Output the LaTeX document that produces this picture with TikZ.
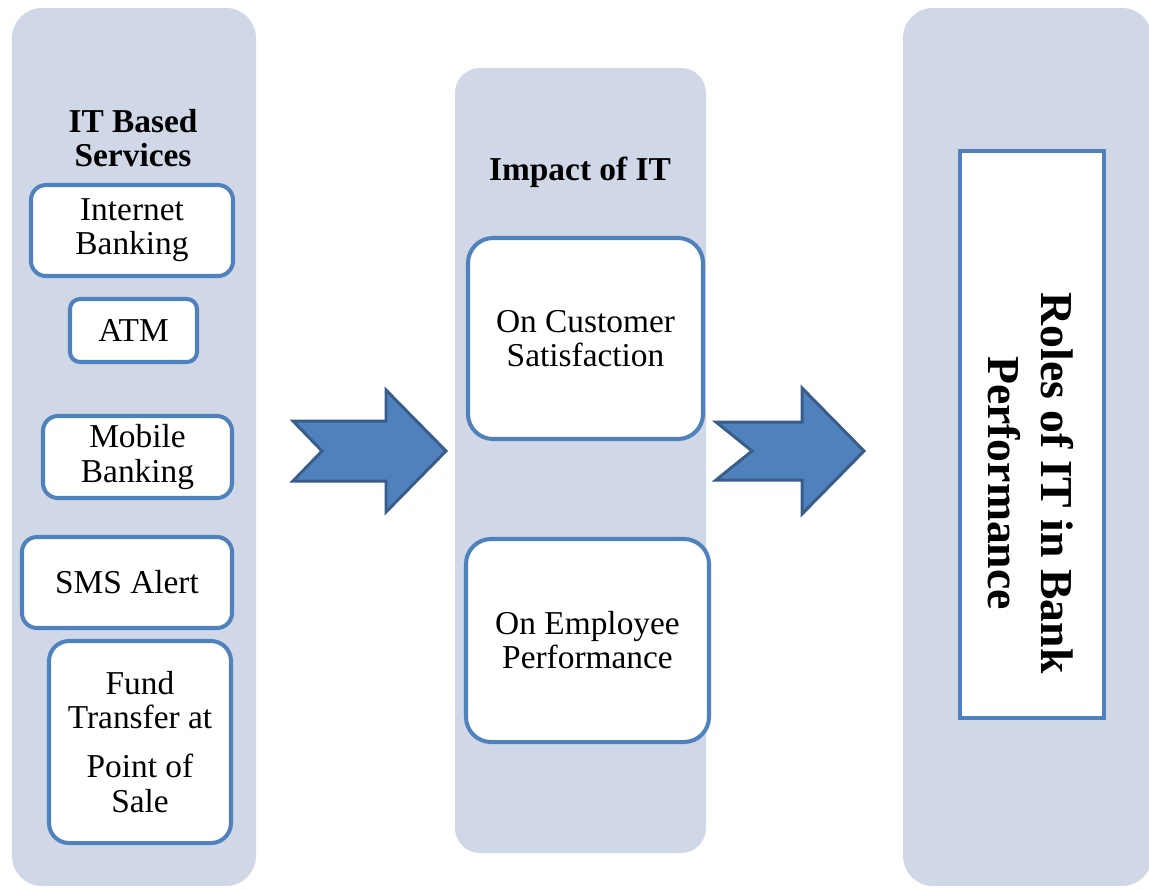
\documentclass[tikz,border=0pt]{standalone}
\usepackage{fontspec}
\setmainfont{Liberation Serif}
\usepackage{xcolor}
\usetikzlibrary{positioning}

\definecolor{panelfill}{HTML}{D0D8E8}
\definecolor{boxline}{HTML}{4F81BD}
\definecolor{arrowline}{HTML}{385D8A}

\begin{document}
\begin{tikzpicture}[
  x=0.2mm, y=-0.2mm,
  panel/.style={
    fill=panelfill,
    rounded corners=6mm,
    inner sep=0pt
  },
  service/.style={
    draw=boxline,
    fill=white,
    line width=2.3pt,
    rounded corners=3mm,
    inner sep=0pt,
    align=center,
    font=\fontsize{19}{19.4}\selectfont
  },
  title/.style={
    align=center,
    font=\fontsize{19}{19.8}\selectfont\bfseries
  },
  bigarrow/.style={
    fill=boxline,
    draw=arrowline,
    line width=1.7pt
  }
]
\clip (0,0) rectangle (1149,888);

% Panels
\node[panel, minimum width=48.8mm, minimum height=175.6mm] (left) at (134,447) {};
\node[panel, minimum width=50.2mm, minimum height=157mm, rounded corners=5mm] (mid) at (580.5,460.5) {};
\node[panel, minimum width=49.8mm, minimum height=175.6mm] (right) at (1027.5,447) {};

% IT based services
\node[title] (services) at (133,138) {IT Based\\Services};
\node[service, minimum width=40.4mm, minimum height=18.2mm] (ib) at (132,230.5) {Internet\\Banking};
\node[service, minimum width=25.4mm, minimum height=12.6mm, rounded corners=2mm] (atm) at (133.5,330.5) {ATM};
\node[service, minimum width=37.8mm, minimum height=16.4mm] (mb) at (137.5,457) {Mobile\\Banking};
\node[service, minimum width=42mm, minimum height=18.2mm] (sms) at (127,582.5) {SMS Alert};
\node[service, minimum width=36.4mm, minimum height=40.4mm, rounded corners=4mm] (fund) at (140,742) {Fund\\Transfer at\\[3mm]Point of\\Sale};

% Impact of IT
\node[title] (impact) at (580,172) {Impact of IT};
\node[service, minimum width=47mm, minimum height=40.2mm, rounded corners=5mm] (cust) at (585.5,338.5) {On Customer\\Satisfaction};
\node[service, minimum width=48.6mm, minimum height=40.6mm, rounded corners=5mm] (emp) at (587.5,640.5) {On Employee\\Performance};

% Roles of IT
\node[service, minimum width=28.8mm, minimum height=113.4mm, rounded corners=0pt] (roles) at (1032,434.5) {};
\node[rotate=-90, align=center, font=\fontsize{26}{30.5}\selectfont\bfseries] (rolestxt) at (1031,483) {Roles of IT in Bank\\Performance};

% Arrows between panels
\draw[bigarrow] (293,421) -- (386,421) -- (386,390) -- (446,451) -- (386,512) -- (386,481) -- (293,481) -- (322,451) -- cycle;
\draw[bigarrow] (716,422) -- (802,422) -- (802,388) -- (864,451) -- (802,514) -- (802,480) -- (716,480) -- (752,451) -- cycle;
\end{tikzpicture}
\end{document}
